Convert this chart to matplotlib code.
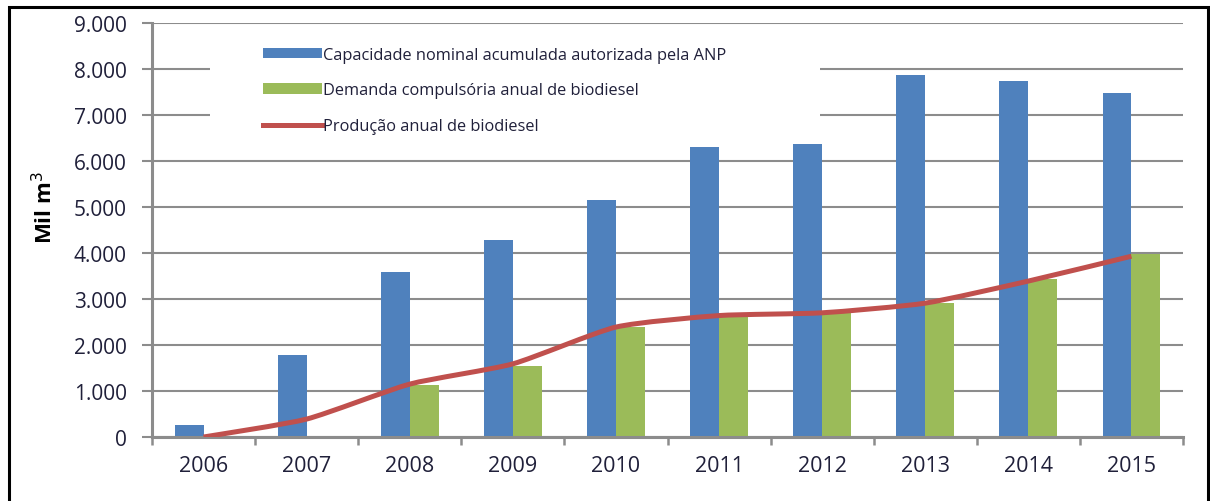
import matplotlib
matplotlib.use("Agg")
import matplotlib.pyplot as plt
import numpy as np
from matplotlib.path import Path
from matplotlib.patches import PathPatch, Rectangle
from matplotlib.lines import Line2D
from matplotlib.patches import Patch

plt.rcParams['font.family'] = ['Open Sans', 'DejaVu Sans']

years = ['2006', '2007', '2008', '2009', '2010', '2011', '2012', '2013', '2014', '2015']
capacidade = [260, 1790, 3580, 4280, 5160, 6310, 6360, 7870, 7740, 7480]
demanda = [0, 0, 1120, 1550, 2390, 2610, 2720, 2910, 3430, 3980]
producao = [0, 390, 1150, 1590, 2390, 2640, 2700, 2910, 3390, 3930]
yticks = [0, 1000, 2000, 3000, 4000, 5000, 6000, 7000, 8000, 9000]
ytick_labels = ['0', '1.000', '2.000', '3.000', '4.000', '5.000', '6.000', '7.000', '8.000', '9.000']
legend_labels = ['Capacidade nominal acumulada autorizada pela ANP',
                 'Demanda compulsória anual de biodiesel',
                 'Produção anual de biodiesel']

BLUE = '#4F81BD'
GREEN = '#9BBB59'
RED = '#C0504D'
GRID = '#8C8C8C'
TXT = '#20203a'

W, H = 1210, 502
fig = plt.figure(figsize=(W / 100, H / 100), dpi=100)
ax = fig.add_axes([152 / W, 1 - 438 / H, (1183 - 152) / W, (438 - 24) / H])

x = np.arange(len(years))
bw = 0.28
ax.bar(x - bw / 2, capacidade, width=bw, color=BLUE, zorder=2)
ax.bar(x + bw / 2, demanda, width=bw, color=GREEN, zorder=2)

# smoothed line (bezier through data points)
px = x.astype(float)
py = np.array(producao, dtype=float)
verts = [(px[0], py[0])]
codes = [Path.MOVETO]
t = 0.1
n = len(px)
for i in range(n - 1):
    p0 = (px[max(i - 1, 0)], py[max(i - 1, 0)])
    p1 = (px[i], py[i])
    p2 = (px[i + 1], py[i + 1])
    p3 = (px[min(i + 2, n - 1)], py[min(i + 2, n - 1)])
    c1 = (p1[0] + (p2[0] - p0[0]) * t, p1[1] + (p2[1] - p0[1]) * t)
    c2 = (p2[0] - (p3[0] - p1[0]) * t, p2[1] - (p3[1] - p1[1]) * t)
    verts += [c1, c2, p2]
    codes += [Path.CURVE4] * 3
ax.add_patch(PathPatch(Path(verts, codes), facecolor='none', edgecolor=RED,
                       lw=3.6, zorder=3, capstyle='butt', joinstyle='round'))

ax.set_xlim(-0.5, 9.5)
ax.set_ylim(0, 9000)
ax.set_yticks(yticks)
ax.set_yticklabels(ytick_labels)
ax.set_xticks(x)
ax.set_xticklabels(years)
ax.set_xticks(np.arange(-0.5, 10, 1), minor=True)
ax.tick_params(axis='x', which='major', length=0, pad=13, labelsize=15.5, labelcolor=TXT)
ax.tick_params(axis='x', which='minor', length=6, width=1.8, color=GRID, direction='out')
ax.tick_params(axis='y', length=7, width=1.5, color=GRID, pad=11, labelsize=15, labelcolor=TXT)

ax.set_axisbelow(True)
ax.yaxis.grid(True, color=GRID, lw=1.5, zorder=0)
for s in ['top', 'right']:
    ax.spines[s].set_visible(False)
for s in ['left', 'bottom']:
    ax.spines[s].set_color(GRID)
    ax.spines[s].set_linewidth(2.2)

# white legend area hiding gridlines
fig.add_artist(Rectangle((210 / W, 1 - 145 / H), (820 - 210) / W, (145 - 34) / H,
                         transform=fig.transFigure, facecolor='white',
                         edgecolor='none', zorder=1.5))

fig.text(45 / W, 1 - 208 / H, 'Mil m$^3$', rotation=90, fontsize=16,
         fontweight='bold', color='black', ha='center', va='center')

handles = [Patch(facecolor=BLUE, edgecolor='none'),
           Patch(facecolor=GREEN, edgecolor='none'),
           Line2D([0], [0], color=RED, lw=3.6)]
leg = fig.legend(handles, legend_labels, loc='upper left',
                 bbox_to_anchor=(248 / W, 1 - 33 / H), frameon=False,
                 fontsize=11.8, handlelength=3.6, handleheight=0.6,
                 handletextpad=0.1, labelspacing=1.2, labelcolor=TXT)
leg.set_zorder(5)

# outer border
fig.add_artist(Rectangle((9 / W, -0.05), (1208 - 9) / W, 1 - 8 / H + 0.05,
                         transform=fig.transFigure, facecolor='none',
                         edgecolor='black', lw=2.2))

fig.savefig('out.png', dpi=100)
